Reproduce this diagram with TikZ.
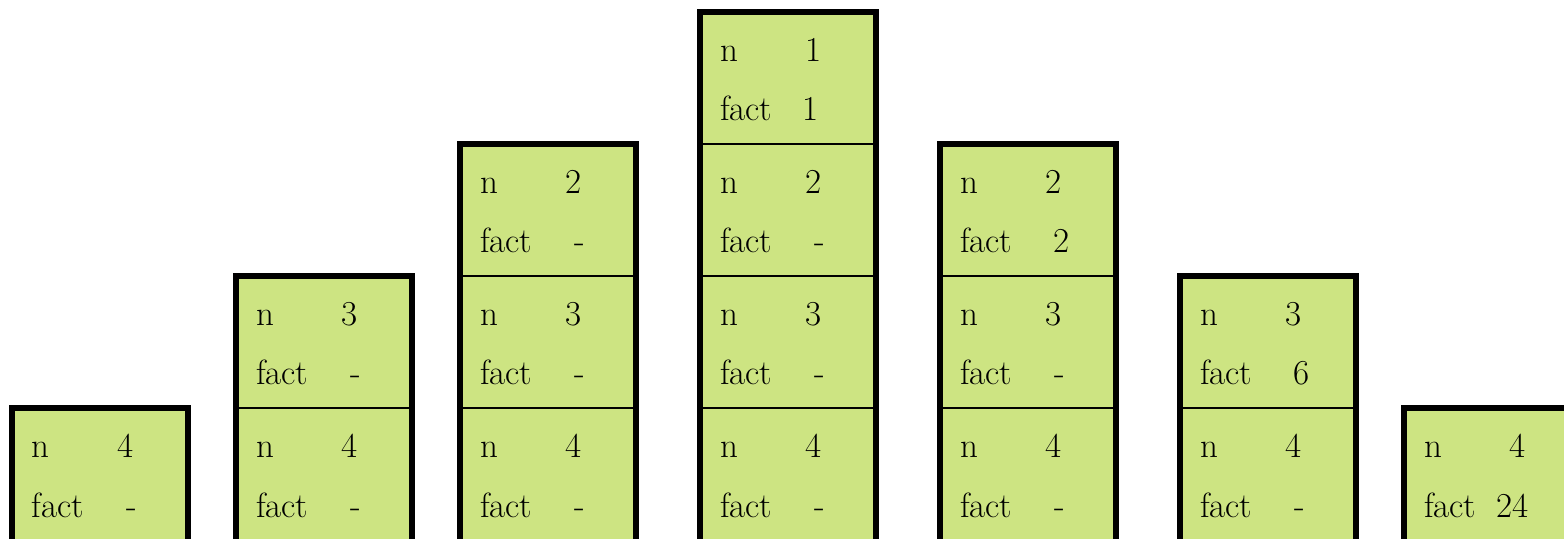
\documentclass[tikz,border=0pt]{standalone}
\definecolor{cellfill}{RGB}{205,228,130}
\tikzset{
  cellbox/.style={draw=black, line width=1pt, fill=cellfill, minimum width=88pt, minimum height=66pt, inner sep=0pt, outer sep=0pt},
  lbl/.style={anchor=base west, inner sep=0pt, outer sep=0pt, font=\fontsize{17.5}{21}\selectfont},
  frame/.style={draw=black, line width=3pt, line join=miter, line cap=rect}
}
\newcommand\mycell[6]{%
  \node[cellbox] (#1) at (#2+88,#3+66) {};
  \node[lbl] (#1-nl) at ([shift={(20,50)}]#1.north west) {n};
  \node[lbl] (#1-nv) at ([shift={(105,50)}]#1.north west) {#4};
  \node[lbl] (#1-fl) at ([shift={(20,109)}]#1.north west) {fact};
  \node[lbl] (#1-fv) at ([shift={(#6,109)}]#1.north west) {#5};
}
\begin{document}
\begin{tikzpicture}[x=0.5pt,y=-0.5pt]
\useasboundingbox (0,0) rectangle (1564,539);
\clip (0,0) rectangle (1564,539);
% column 1
\mycell{a1}{12}{408}{4}{-}{114}
\draw[frame] (a1.south west) -- (a1.north west) -- (a1.north east) -- (a1.south east);
% column 2
\mycell{b1}{236}{408}{4}{-}{114}
\mycell{b2}{236}{276}{3}{-}{114}
\draw[frame] (b1.south west) -- (b2.north west) -- (b2.north east) -- (b1.south east);
% column 3
\mycell{c1}{460}{408}{4}{-}{114}
\mycell{c2}{460}{276}{3}{-}{114}
\mycell{c3}{460}{144}{2}{-}{114}
\draw[frame] (c1.south west) -- (c3.north west) -- (c3.north east) -- (c1.south east);
% column 4
\mycell{d1}{700}{408}{4}{-}{114}
\mycell{d2}{700}{276}{3}{-}{114}
\mycell{d3}{700}{144}{2}{-}{114}
\mycell{d4}{700}{12}{1}{1}{102}
\draw[frame] (d1.south west) -- (d4.north west) -- (d4.north east) -- (d1.south east);
% column 5
\mycell{e1}{940}{408}{4}{-}{114}
\mycell{e2}{940}{276}{3}{-}{114}
\mycell{e3}{940}{144}{2}{2}{113}
\draw[frame] (e1.south west) -- (e3.north west) -- (e3.north east) -- (e1.south east);
% column 6
\mycell{f1}{1180}{408}{4}{-}{114}
\mycell{f2}{1180}{276}{3}{6}{113}
\draw[frame] (f1.south west) -- (f2.north west) -- (f2.north east) -- (f1.south east);
% column 7 (runs past the right edge)
\mycell{g1}{1404}{408}{4}{24}{92}
\draw[frame] (g1.south west) -- (g1.north west) -- (g1.north east);
\end{tikzpicture}
\end{document}
